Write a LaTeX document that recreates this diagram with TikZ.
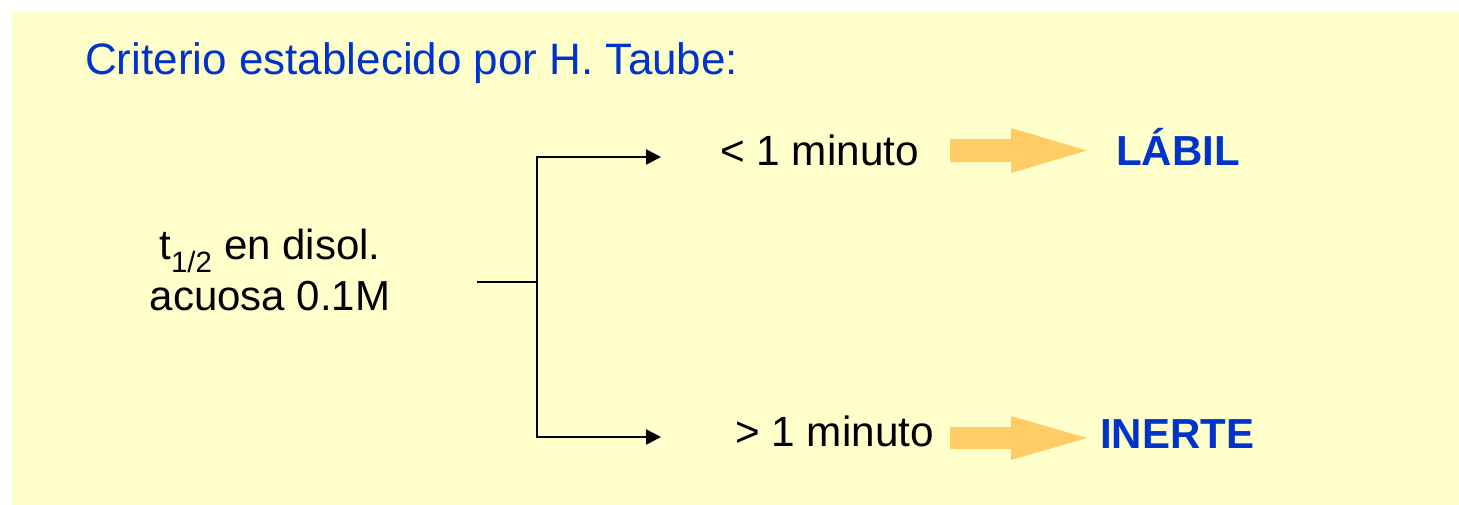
\documentclass[tikz,border=0pt]{standalone}
\usepackage{fontspec}
\setmainfont{Liberation Sans}
\usetikzlibrary{arrows.meta}
\definecolor{bg}{HTML}{FFFFCC}
\definecolor{tblue}{HTML}{0033CC}
\definecolor{orng}{HTML}{FFCC66}
\begin{document}
\begin{tikzpicture}[x=1pt,y=-1pt,
  txt/.style={inner sep=0pt, anchor=base west, font=\fontsize{42.3}{51}\selectfont},
  ttl/.style={inner sep=0pt, anchor=base west, text=tblue, font=\fontsize{44}{51}\selectfont},
  res/.style={inner sep=0pt, anchor=base west, text=tblue, font=\fontsize{42}{51}\selectfont\bfseries},
  conn/.style={line width=2.6pt, -{Triangle[length=15pt,width=15pt]}},
  plain/.style={line width=2.6pt},
  fat/.style={fill=orng, draw=none}]
\useasboundingbox (0,0) rectangle (1459,504);
\fill[bg] (12,11) rectangle (1475,520);

\node[ttl] (title) at (85,74) {Criterio establecido por H. Taube:};
\node[inner sep=0pt, align=center, font=\fontsize{42}{51}\selectfont] (src) at (270,270) {t\textsubscript{1/2} en disol.\\acuosa 0.1M};

\node[txt] (lt) at (720,165) {< 1 minuto};
\node[txt] (gt) at (735,446) {> 1 minuto};
\node[res] (lab) at (1116,165) {LÁBIL};
\node[res] (ine) at (1100,448) {INERTE};

\coordinate (j0) at (477,282);
\coordinate (j) at (537,282);
\coordinate (jt) at (537,157);
\coordinate (jb) at (537,437);
\coordinate (at) at (661,157);
\coordinate (ab) at (661,437);

\draw[plain] (j0) -- (j);
\draw[plain, line cap=rect] (jt) -- (jb);
\draw[conn] (jt) -- (at);
\draw[conn] (jb) -- (ab);

\fill[fat] (950,139) -- (1011,139) -- (1011,128) -- (1087,150.5) -- (1011,173) -- (1011,162) -- (950,162) -- cycle;
\fill[fat] (950,427) -- (1011,427) -- (1011,416) -- (1087,438) -- (1011,460) -- (1011,449) -- (950,449) -- cycle;
\end{tikzpicture}
\end{document}
